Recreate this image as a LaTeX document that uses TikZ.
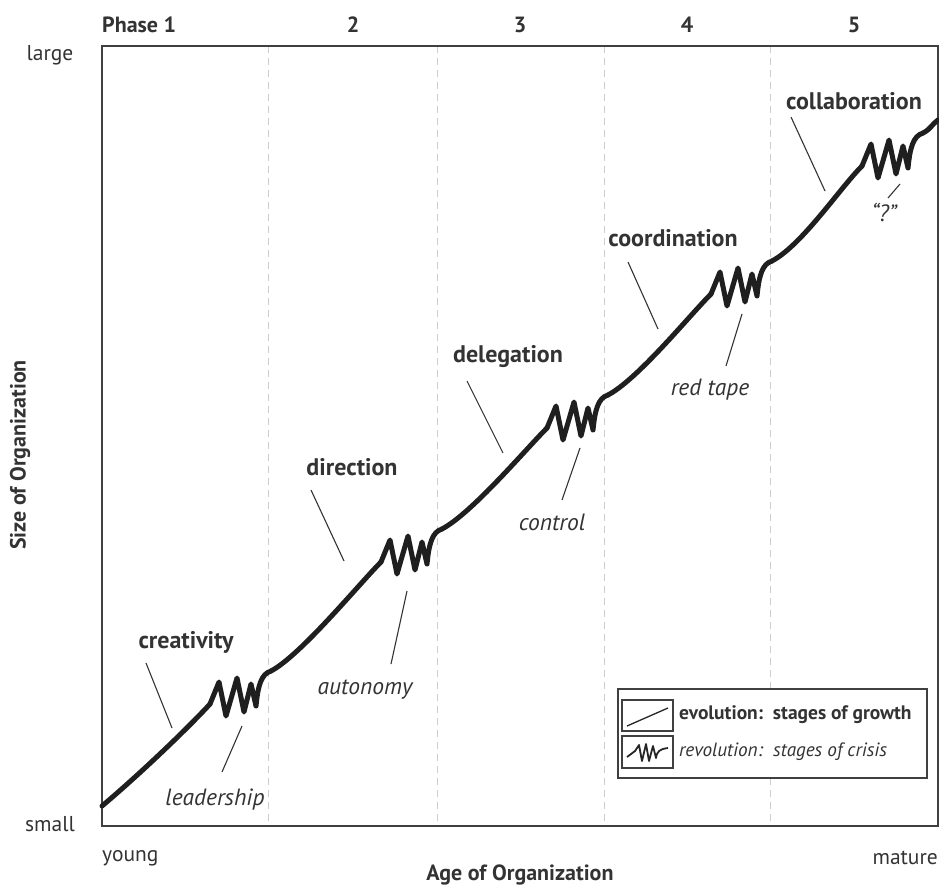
\documentclass[tikz,border=0pt]{standalone}
\usepackage{fontspec}
\setmainfont{PT Sans}
\definecolor{ink}{HTML}{333333}
\begin{document}
\begin{tikzpicture}[x=1pt,y=-1pt,
  lbl/.style={font=\fontsize{24}{26}\selectfont\bfseries, text=ink, inner sep=0pt},
  crisislbl/.style={font=\fontsize{23.5}{26}\selectfont\itshape, text=ink, inner sep=0pt},
  axislbl/.style={font=\fontsize{21.5}{24}\selectfont, text=ink, inner sep=0pt},
  axistitle/.style={font=\fontsize{22}{24}\selectfont\bfseries, text=ink, inner sep=0pt},
  phaselbl/.style={font=\fontsize{22}{24}\selectfont\bfseries, text=ink, inner sep=0pt},
  legendtxt/.style={text=ink, inner sep=0pt, anchor=west},
  leader/.style={draw=ink, line width=1.1pt},
  growth/.style={draw=black!88, line width=5pt, line cap=round, line join=round},
  phaseline/.style={draw=black!20, line width=1pt, dash pattern=on 7pt off 5pt},
  frame/.style={draw=black!75, line width=1.6pt},
]
\useasboundingbox (0,0) rectangle (939,885);

% phase separators and frame
\foreach \px in {268,437,604,770}
  \draw[phaseline] (\px,46) -- (\px,826);
\draw[frame] (102,46) rectangle (938,826);

% phase headings
\node[phaselbl, anchor=base west] (ph1) at (102,33) {Phase 1};
\node[phaselbl, anchor=base] (ph2) at (353,33) {2};
\node[phaselbl, anchor=base] (ph3) at (520,33) {3};
\node[phaselbl, anchor=base] (ph4) at (687,33) {4};
\node[phaselbl, anchor=base] (ph5) at (854,33) {5};

% axes
\node[axislbl] (large) at (50,55) {large};
\node[axislbl] (small) at (50,824) {small};
\node[axislbl, anchor=west] (young) at (102,858) {young};
\node[axislbl, anchor=east] (mature) at (938,858) {mature};
\node[axistitle] (xtitle) at (520,875) {Age of Organization};
\node[axistitle, rotate=90] (ytitle) at (20,455) {Size of Organization};

% key points of the growth curve: S = start of a crisis, E = its end
\coordinate (A) at (102,806);
\coordinate (S1) at (210,704); \coordinate (E1) at (271,671);
\coordinate (S2) at (381,562); \coordinate (E2) at (442,529);
\coordinate (S3) at (547,428); \coordinate (E3) at (608,395);
\coordinate (S4) at (711,294); \coordinate (E4) at (772,261);
\coordinate (S5) at (862,166); \coordinate (E5) at (923,133);
\coordinate (Z) at (938,120);

% evolution: calm stretches of growth
\draw[growth] (A) .. controls +(38,-32) and +(-22,24) .. (S1);
\draw[growth] (E1) .. controls +(30,-16) and +(-22,22) .. (S2);
\draw[growth] (E2) .. controls +(30,-16) and +(-22,22) .. (S3);
\draw[growth] (E3) .. controls +(30,-16) and +(-22,22) .. (S4);
\draw[growth] (E4) .. controls +(30,-16) and +(-22,22) .. (S5);
\draw[growth] (E5) .. controls +(8,-4) and +(-6,4) .. (Z);

% revolution: crises between the stages
\foreach \s in {S1,S2,S3,S4,S5}
  \draw[growth, shift={(\s)}] (0,0) -- (9,-22) -- (16,12) -- (27,-26) -- (34,8)
    -- (41,-20) -- (46,2) .. controls (48,-18) and (51,-30) .. (61,-33);

% stage labels
\node[lbl] (creativity) at (186,642) {creativity};
\node[lbl] (direction) at (352,467) {direction};
\node[lbl] (delegation) at (508,357) {delegation};
\node[lbl] (coordination) at (673,238) {coordination};
\node[lbl] (collaboration) at (854,101) {collaboration};
\coordinate (c1) at (172,728);
\coordinate (c2) at (344,561);
\coordinate (c3) at (503,453);
\coordinate (c4) at (658,329);
\coordinate (c5) at (825,191);
\draw[leader] (146,663) -- (c1);
\draw[leader] (311,490) -- (c2);
\draw[leader] (467,381) -- (c3);
\draw[leader] (628,262) -- (c4);
\draw[leader] (791,117) -- (c5);

% crisis labels
\node[crisislbl] (leadership) at (215,800) {leadership};
\node[crisislbl] (autonomy) at (365,690) {autonomy};
\node[crisislbl] (control) at (552,522) {control};
\node[crisislbl] (redtape) at (710,390) {red tape};
\node[crisislbl] (unknown) at (884,212) {“?”};
\coordinate (k1) at (242,726);
\coordinate (k2) at (407,591);
\coordinate (k3) at (580,448);
\coordinate (k4) at (742,314);
\coordinate (k5) at (900,184);
\draw[leader] (k1) -- (222,772);
\draw[leader] (k2) -- (391,664);
\draw[leader] (k3) -- (562,500);
\draw[leader] (k4) -- (726,366);
\draw[leader] (k5) -- (888,198);

% legend
\draw[frame, fill=white] (618,689) rectangle (927,778);
\draw[draw=black!75, line width=1.3pt] (622,700) rectangle (673,731);
\draw[draw=black!75, line width=1.3pt] (622,736) rectangle (673,768);
\draw[draw=black!85, line width=1.3pt] (627,726) -- (668,708);
\draw[draw=black!85, line width=1.8pt, line join=round]
  (627,757) -- (635,751) -- (639,745) -- (642,761) -- (646,744) -- (649,761)
  -- (653,746) -- (656,758) .. controls (657,751) and (660,749) .. (668,748);
\node[legendtxt, font=\fontsize{19.5}{22}\selectfont\bfseries] (evo) at (679,715)
  {evolution:\ \ stages of growth};
\node[legendtxt, font=\fontsize{19.2}{22}\selectfont\itshape] (rev) at (679,752)
  {revolution:\ \ stages of crisis};
\end{tikzpicture}
\end{document}
